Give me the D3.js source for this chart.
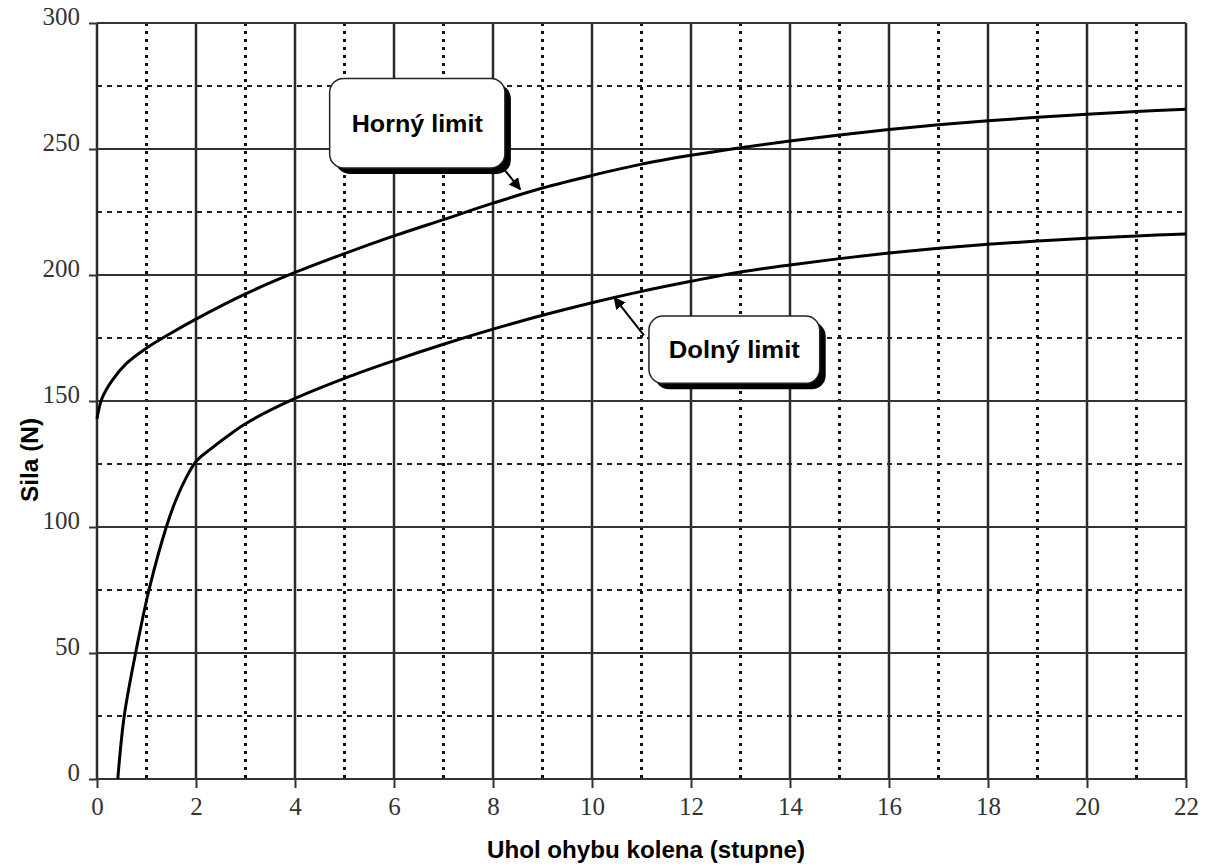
<!DOCTYPE html>
<html>
<head>
<meta charset="utf-8">
<script src="https://cdn.jsdelivr.net/npm/d3@7"></script>
<style>
  body { margin: 0; background: #fff; }
  svg { display: block; }
</style>
</head>
<body>
<svg id="chart" width="1208" height="868"></svg>
<script>
// angle (degrees) and force (N)
const upperX = [0, 0.1, 0.3, 0.6, 1, 1.5, 2, 3, 4, 5, 6, 7, 8, 9, 10, 11, 12, 13, 14, 15, 16, 17, 18, 19, 20, 21, 22];
const upperY = [143, 151, 158, 165, 171, 177, 182.5, 192.5, 201, 208.5, 215.5, 222, 228.5, 234.5, 239.5, 244, 247.5, 250.5, 253.2, 255.6, 257.7, 259.6, 261.2, 262.6, 263.8, 264.9, 265.8];

const lowerX = [0.42, 0.55, 0.78, 1.05, 1.4, 1.6, 1.8, 2, 2.3, 2.6, 3, 4, 5, 6, 7, 8, 9, 10, 11, 12, 13, 14, 15, 16, 17, 18, 19, 20, 21, 22];
const lowerY = [0, 25, 50, 75, 100, 111, 119.5, 126, 131, 135.5, 141, 151, 159, 166, 172.5, 178.5, 184, 189, 193.5, 197.5, 201.2, 204, 206.5, 208.7, 210.6, 212.2, 213.5, 214.6, 215.5, 216.3];

const xTicks = [0, 2, 4, 6, 8, 10, 12, 14, 16, 18, 20, 22];
const xMinor = [1, 3, 5, 7, 9, 11, 13, 15, 17, 19, 21];
const yTicks = [0, 50, 100, 150, 200, 250, 300];
const yMinor = [25, 75, 125, 175, 225, 275];

// callouts: box corners and arrow in data units
const callouts = [
  { label: "Horný limit", x0: 4.7, x1: 8.24, y0: 278, y1: 242.5, ax: 8.2, ay: 242.5, tx: 8.55, ty: 234 },
  { label: "Dolný limit", x0: 11.15, x1: 14.6, y0: 183.7, y1: 157, ax: 11.05, ay: 176, tx: 10.45, ty: 191 }
];

const margin = { top: 23, right: 22, bottom: 89, left: 97 };
const width = 1208, height = 868;
const sans = "'Liberation Sans Narrow', 'Liberation Sans', Arial, sans-serif";

const svg = d3.select("#chart");

const x = d3.scaleLinear().domain([0, 22]).range([margin.left, width - margin.right]);
const y = d3.scaleLinear().domain([0, 300]).range([height - margin.bottom, margin.top]);

const grid = svg.append("g");

// minor grid
grid.selectAll(".vminor").data(xMinor).enter().append("line")
  .attr("x1", d => x(d)).attr("x2", d => x(d))
  .attr("y1", y(300)).attr("y2", y(0))
  .attr("stroke", "#111").attr("stroke-width", 3)
  .attr("stroke-dasharray", "3,5");

grid.selectAll(".hminor").data(yMinor).enter().append("line")
  .attr("x1", x(0)).attr("x2", x(22))
  .attr("y1", d => y(d)).attr("y2", d => y(d))
  .attr("stroke", "#222").attr("stroke-width", 2)
  .attr("stroke-dasharray", "5,5");

// major grid
grid.selectAll(".vmajor").data(xTicks).enter().append("line")
  .attr("x1", d => x(d)).attr("x2", d => x(d))
  .attr("y1", y(300)).attr("y2", y(0))
  .attr("stroke", "#2a2a2a").attr("stroke-width", 2.5);

grid.selectAll(".hmajor").data(yTicks).enter().append("line")
  .attr("x1", x(0)).attr("x2", x(22))
  .attr("y1", d => y(d)).attr("y2", d => y(d))
  .attr("stroke", "#333").attr("stroke-width", 2);

// axes
const xAxis = svg.append("g")
  .attr("transform", `translate(0,${y(0)})`)
  .call(d3.axisBottom(x).tickValues(xTicks).tickSize(9).tickPadding(9));

const yAxis = svg.append("g")
  .attr("transform", `translate(${x(0)},0)`)
  .call(d3.axisLeft(y).tickValues(yTicks).tickSize(8).tickPadding(9));

[xAxis, yAxis].forEach(a => {
  a.select(".domain").remove();
  a.selectAll(".tick line").attr("stroke", "#333").attr("stroke-width", 2);
  a.selectAll("text")
    .attr("fill", "#333")
    .style("font-family", "'Liberation Serif', 'DejaVu Serif', serif")
    .style("font-size", "25px");
});
yAxis.selectAll("text").attr("dy", "0.05em");

// curves
const line = d3.line()
  .x(d => x(d[0]))
  .y(d => y(d[1]))
  .curve(d3.curveCatmullRom.alpha(0.5));

svg.append("path")
  .datum(d3.zip(upperX, upperY))
  .attr("d", line)
  .attr("fill", "none")
  .attr("stroke", "#000")
  .attr("stroke-width", 3);

svg.append("path")
  .datum(d3.zip(lowerX, lowerY))
  .attr("d", line)
  .attr("fill", "none")
  .attr("stroke", "#000")
  .attr("stroke-width", 3);

// arrows and callout boxes
svg.append("defs").append("marker")
  .attr("id", "arrow")
  .attr("viewBox", "0 0 10 10")
  .attr("refX", 9).attr("refY", 5)
  .attr("markerWidth", 6).attr("markerHeight", 6)
  .attr("orient", "auto")
  .append("path").attr("d", "M0,0L10,5L0,10z").attr("fill", "#000");

const call = svg.selectAll(".callout").data(callouts).enter().append("g");

call.append("line")
  .attr("x1", d => x(d.ax)).attr("y1", d => y(d.ay))
  .attr("x2", d => x(d.tx)).attr("y2", d => y(d.ty))
  .attr("stroke", "#000").attr("stroke-width", 2)
  .attr("marker-end", "url(#arrow)");

call.append("rect")
  .attr("x", d => x(d.x0) + 6).attr("y", d => y(d.y0) + 6)
  .attr("width", d => x(d.x1) - x(d.x0)).attr("height", d => y(d.y1) - y(d.y0))
  .attr("rx", 14)
  .attr("fill", "#000");

call.append("rect")
  .attr("x", d => x(d.x0)).attr("y", d => y(d.y0))
  .attr("width", d => x(d.x1) - x(d.x0)).attr("height", d => y(d.y1) - y(d.y0))
  .attr("rx", 14)
  .attr("fill", "#fff")
  .attr("stroke", "#222").attr("stroke-width", 1.5);

call.append("text")
  .attr("x", d => (x(d.x0) + x(d.x1)) / 2)
  .attr("y", d => (y(d.y0) + y(d.y1)) / 2)
  .attr("dy", "0.35em")
  .attr("text-anchor", "middle")
  .style("font-family", sans)
  .style("font-weight", "bold")
  .style("font-size", "24px")
  .attr("textLength", 131)
  .attr("lengthAdjust", "spacingAndGlyphs")
  .text(d => d.label);

// axis titles
svg.append("text")
  .attr("x", 646).attr("y", 858)
  .attr("text-anchor", "middle")
  .style("font-family", sans)
  .style("font-weight", "bold")
  .style("font-size", "24px")
  .attr("textLength", 318)
  .attr("lengthAdjust", "spacingAndGlyphs")
  .text("Uhol ohybu kolena (stupne)");

svg.append("text")
  .attr("transform", "translate(38,460) rotate(-90)")
  .attr("text-anchor", "middle")
  .style("font-family", sans)
  .style("font-weight", "bold")
  .style("font-size", "23px")
  .attr("textLength", 84)
  .attr("lengthAdjust", "spacingAndGlyphs")
  .text("Sila (N)");
</script>
</body>
</html>
